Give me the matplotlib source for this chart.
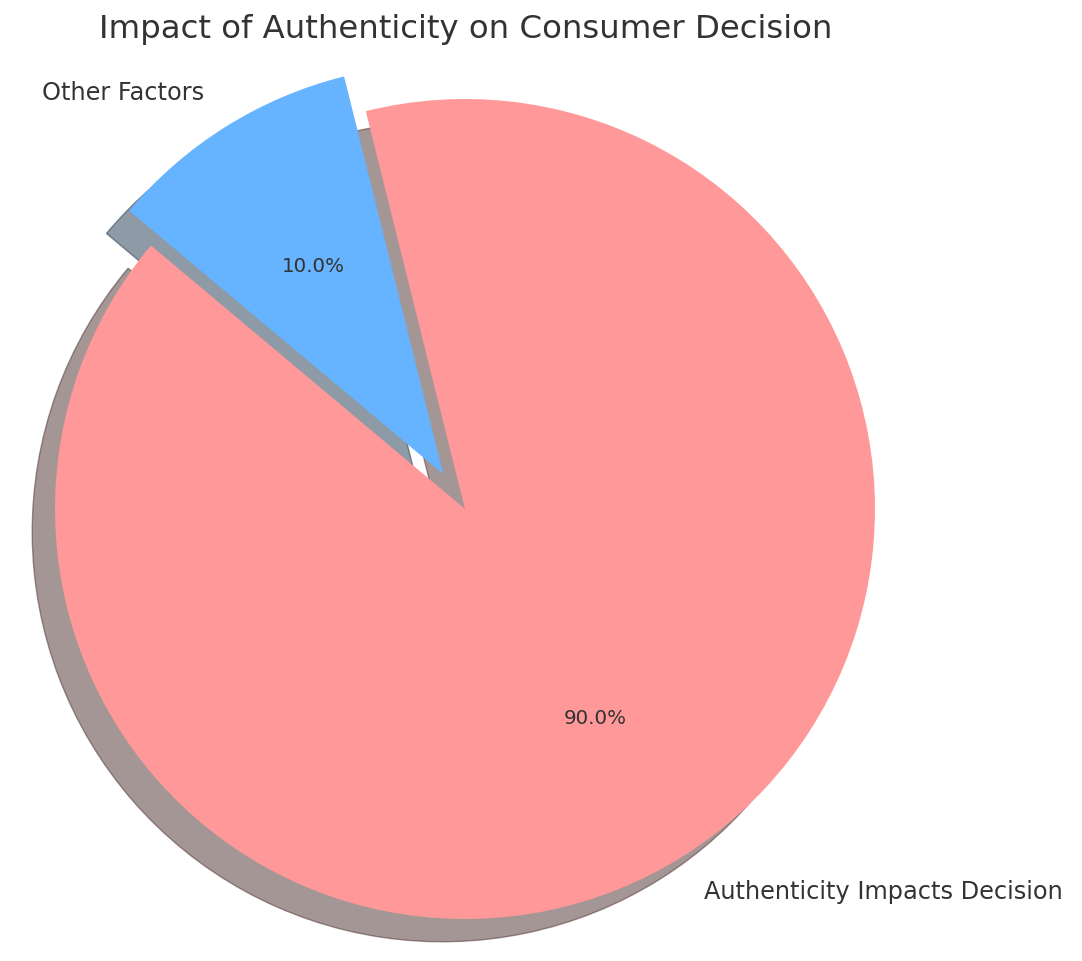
import matplotlib.pyplot as plt

# data
labels = ['Authenticity Impacts Decision', 'Other Factors']
sizes = [90, 10]
colors = ['#ff9999', '#66b3ff']
explode = (0, 0.1)

fig = plt.figure(figsize=(10.82, 9.62), dpi=100)
# axes placed so that the pie radius is ~410 px, centre at (465, 510) px
ax = fig.add_axes([-0.0439, -0.0629, 0.9473, 1.0655])

wedges, texts, autotexts = ax.pie(sizes, explode=explode, labels=labels, colors=colors,
                                  autopct='%1.1f%%', shadow={'ox': -0.04, 'oy': -0.04},
                                  startangle=140,
                                  textprops={'color': '#333333', 'fontsize': 17.3})
for t in autotexts:
    t.set_fontsize(14.3)

ax.set_xlim(-1.25, 1.25)
ax.set_ylim(-1.25, 1.25)
ax.set_aspect('equal')

fig.text(0.43, 0.969, 'Impact of Authenticity on Consumer Decision',
         ha='center', va='center', fontsize=23.3, color='#333333')

fig.savefig('out.png', dpi=100)
